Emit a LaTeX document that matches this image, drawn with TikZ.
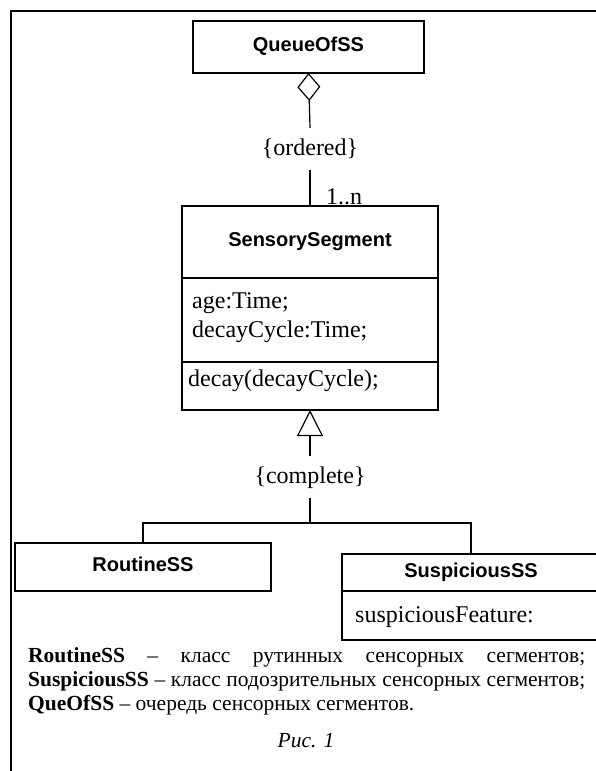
\documentclass[tikz,border=0pt]{standalone}
\usepackage{fontspec}
\setmainfont{Liberation Serif}
\setsansfont{Liberation Sans}
\usepackage{tikz}
\usetikzlibrary{positioning, arrows.meta}

\tikzset{
  classbox/.style={draw, line width=1.2pt, inner sep=0pt, outer sep=0pt,
    text height=15pt, text depth=6pt,
    font=\sffamily\bfseries\fontsize{20}{24}\selectfont},
  compbox/.style={draw, line width=1.2pt, inner sep=0pt, outer sep=0pt},
  member/.style={anchor=base west, inner sep=0pt, font=\fontsize{24}{28}\selectfont},
  constraint/.style={inner xsep=2pt, inner ysep=10pt, text height=17pt, text depth=5pt,
    font=\fontsize{24}{28}\selectfont},
  link/.style={line width=1.2pt},
  legend/.style={anchor=base west, inner sep=0pt, font=\fontsize{21.5}{24}\selectfont},
  frame/.style={line width=2pt},
}

\begin{document}
\begin{tikzpicture}[x=1pt, y=-1pt]

\useasboundingbox (0,0) rectangle (595,771);

\draw[frame] (11,775) -- (11,11) -- (600,11);

% ---------- CLASES ----------

\node[classbox, minimum width=231, minimum height=52] (queue) at (308.5,47) {QueueOfSS};

\node[classbox, minimum width=256, minimum height=72] (sstitle) at (310,242) {SensorySegment};
\node[compbox, minimum width=256, minimum height=84, below=0pt of sstitle] (ssattr) {};
\node[compbox, minimum width=256, minimum height=48, below=0pt of ssattr] (ssops) {};

\node[member] (age) at (192,308) {age:Time;};
\node[member] (cycle) at (192,337) {decayCycle:Time;};
\node[member] (decay) at (188,386) {decay(decayCycle);};

\node[classbox, minimum width=256, minimum height=48] (routine) at (143,567) {RoutineSS};

\node[classbox, minimum width=258, minimum height=37] (susptitle) at (471,572.5) {SuspiciousSS};
\node[compbox, minimum width=258, minimum height=49, below=0pt of susptitle] (suspattr) {};
\node[member] (feature) at (355,622) {suspiciousFeature:};

% ---------- RELACIONES ----------

\node[constraint] (ordered) at (310,149) {\{ordered\}};
\node[constraint] (complete) at (310,477) {\{complete\}};
\node[member, anchor=west] (mult) at (326,197) {1..n};

\draw[link, {Diamond[open, length=28pt, width=23pt]}-] (queue.south) -- (ordered.north);
\draw[link] (ordered.south) -- (sstitle.north);

\draw[link, {Triangle[open, length=26pt, width=26pt]}-] (ssops.south) -- (complete.north);
\coordinate (fork) at (310,523);
\draw[link] (complete.south) -- (fork);
\draw[link] (routine.north) |- (fork) -| (susptitle.north);

% ---------- LEYENDA ----------

\node[legend] (leg1) at (28,662) {\makebox[557pt][s]{\textbf{RoutineSS} – класс рутинных сенсорных сегментов;}};
\node[legend] (leg2) at (28,686) {\makebox[557pt][s]{\textbf{SuspiciousSS} – класс подозрительных сенсорных сегментов;}};
\node[legend] (leg3) at (28,710) {\textbf{QueOfSS} – очередь сенсорных сегментов.};

\node[legend, anchor=base] (caption) at (306,747) {\itshape Рис. 1};

\end{tikzpicture}
\end{document}
